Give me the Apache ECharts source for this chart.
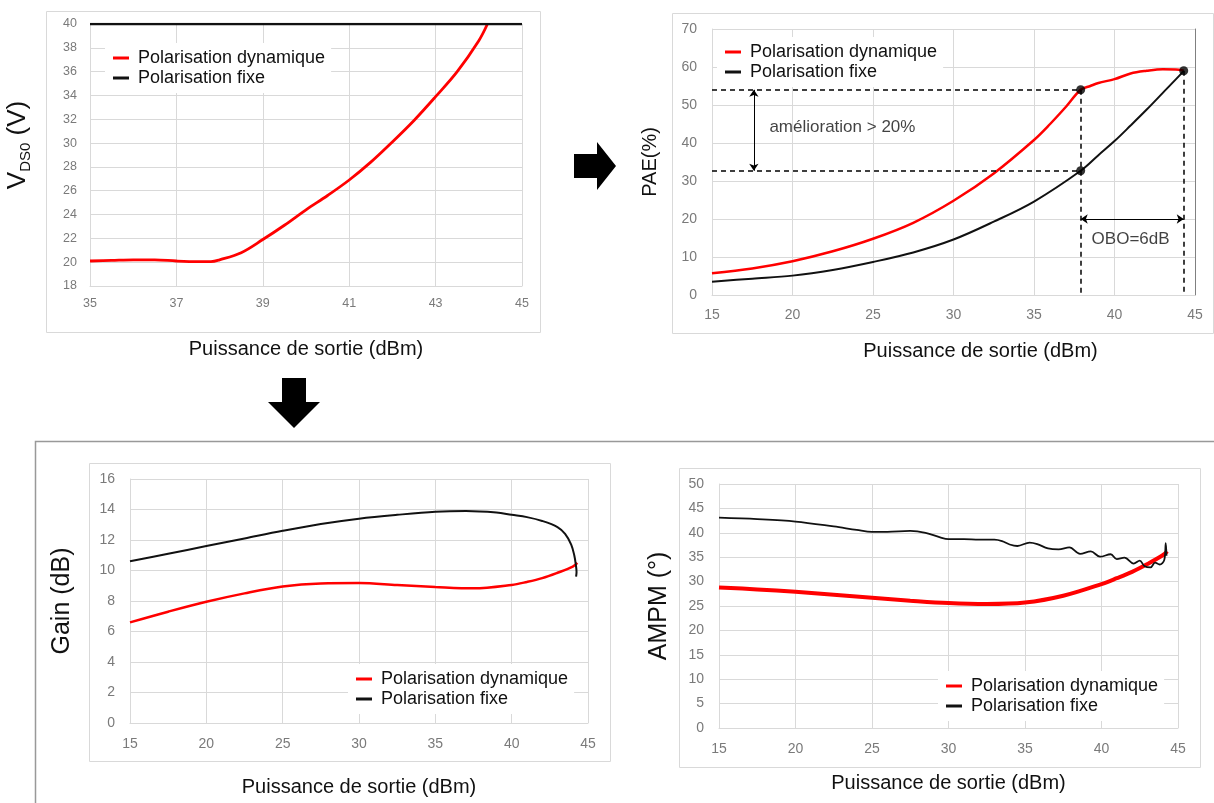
<!DOCTYPE html>
<html><head><meta charset="utf-8">
<script src="https://cdn.jsdelivr.net/npm/echarts@6/dist/echarts.min.js"></script>
<style>html,body{margin:0;padding:0;background:#fff}#c{width:1214px;height:803px}</style>
</head><body><div id="c"></div>
<script>
// ---------- DATA ----------
const seriesNames = ['Polarisation dynamique', 'Polarisation fixe'];
const xTitle = 'Puissance de sortie (dBm)';

// Chart 1 : VDS0 (V)
const vdsDynX = [35, 35.5, 36, 36.5, 37, 37.5, 37.8, 38, 38.5, 39, 39.5, 40, 40.5, 41, 41.5, 42, 42.5, 43, 43.5, 44, 44.2];
const vdsDynY = [20.1, 20.15, 20.2, 20.2, 20.1, 20.05, 20.05, 20.2, 20.8, 21.9, 23.1, 24.4, 25.6, 26.9, 28.4, 30.1, 31.9, 33.9, 36.0, 38.6, 40];
const vdsFixX = [35, 45];
const vdsFixY = [40, 40];

// Chart 2 : PAE (%)
const paeDynX = [15, 17.5, 20, 22.5, 25, 27.5, 30, 32.5, 35, 36, 37, 37.9, 38.5, 39, 40, 41, 42, 43, 44, 44.3];
const paeDynY = [5.7, 7.0, 8.9, 11.5, 14.8, 19.0, 24.8, 32.0, 40.8, 45.0, 49.6, 54.0, 55.0, 55.8, 56.8, 58.3, 59.0, 59.4, 59.3, 59.0];
const paeFixX = [15, 17.5, 20, 22.5, 25, 27.5, 30, 32.5, 35, 37.9, 39, 40, 41, 42, 43, 44, 44.3];
const paeFixY = [3.5, 4.3, 5.1, 6.6, 8.7, 11.2, 14.6, 19.3, 24.6, 32.7, 36.8, 40.5, 44.6, 48.8, 53.2, 57.6, 59.0];
// annotations of chart 2
const markX = [37.9, 37.9, 44.3];
const markY = [54, 32.7, 59];
const gainArrowX = 17.6;
const oboArrowY = 20;
const annotX = [23.1, 41.0];
const annotY = [44, 14.7];
const annotText = ['amélioration > 20%', 'OBO=6dB'];

// Chart 3 : Gain (dB)
const gainDynX = [15, 17.5, 20, 22.5, 25, 27.5, 30, 32.5, 35, 37.5, 40, 41, 42, 43, 44, 44.3];
const gainDynY = [6.6, 7.3, 7.95, 8.5, 8.95, 9.15, 9.18, 9.05, 8.92, 8.83, 9.05, 9.25, 9.5, 9.85, 10.25, 10.5];
const gainFixX = [15, 17.5, 20, 22.5, 25, 27.5, 30, 32.5, 35, 37, 39, 40, 41, 42, 43, 43.5, 43.9, 44.1, 44.2, 44.25, 44.22];
const gainFixY = [10.6, 11.1, 11.6, 12.1, 12.6, 13.05, 13.4, 13.65, 13.85, 13.9, 13.8, 13.65, 13.5, 13.25, 12.85, 12.4, 11.7, 11.0, 10.4, 9.9, 9.6];

// Chart 4 : AMPM (°)
const ampmDynX = [15, 17.5, 20, 22.5, 25, 27.5, 30, 32.5, 35, 37.5, 40, 41, 42, 43, 44, 44.3];
const ampmDynY = [28.8, 28.4, 27.9, 27.3, 26.7, 26.1, 25.6, 25.4, 25.7, 27.1, 29.5, 30.7, 32.0, 33.6, 35.4, 36.2];
const ampmFixX = [15, 17.5, 20, 22.5, 24, 25, 26, 27.5, 28.5, 29.5, 30, 31, 32, 33, 33.5, 34, 34.5, 35.3, 35.8, 36.5, 37.2, 37.9, 38.6, 39.3, 39.9, 40.6, 41, 41.5, 42.1, 42.5, 42.8, 43.2, 43.5, 43.8, 44.1, 44.2, 44.25];
const ampmFixY = [43.1, 42.8, 42.3, 41.3, 40.6, 40.2, 40.2, 40.4, 40.0, 39.0, 38.7, 38.7, 38.6, 38.6, 38.3, 37.6, 37.3, 38.0, 37.7, 36.8, 36.6, 37.0, 35.7, 36.2, 35.1, 35.6, 34.6, 34.9, 33.7, 34.3, 33.2, 32.9, 33.9, 33.5, 34.4, 37.9, 35.3];

// ---------- CHART ----------
const FONT = '"Liberation Sans", Arial, sans-serif';
const RED = '#ff0000', BLACK = '#111111', GRID = '#d9d9d9', TICK = '#7a7a7a';
const zip = (xs, ys) => xs.map((x, i) => [x, ys[i]]);

function xAxis(gi, min, max, interval, fs, margin, gap, padLeft) {
  return {
    type: 'value', gridIndex: gi, min, max, interval,
    axisLine: { show: true, onZero: false, lineStyle: { color: GRID } },
    axisTick: { show: false },
    splitLine: { show: true, lineStyle: { color: GRID } },
    axisLabel: { color: TICK, fontSize: fs, margin, fontFamily: FONT },
    name: xTitle, nameLocation: 'middle', nameGap: gap,
    nameTextStyle: { fontSize: 20, color: '#111', fontFamily: FONT, padding: [0, 0, 0, padLeft || 0] }
  };
}
function yAxis(gi, min, max, interval, fs, margin, name, gap, nameStyle) {
  return {
    type: 'value', gridIndex: gi, min, max, interval,
    axisLine: { show: true, onZero: false, lineStyle: { color: GRID } },
    axisTick: { show: false },
    splitLine: { show: true, lineStyle: { color: GRID } },
    axisLabel: { color: TICK, fontSize: fs, margin, fontFamily: FONT },
    name, nameLocation: 'middle', nameGap: gap, nameRotate: 90,
    nameTextStyle: Object.assign({ fontSize: 25, color: '#111', fontFamily: FONT }, nameStyle || {})
  };
}
function legend(left, top) {
  return {
    data: seriesNames, orient: 'vertical', left, top,
    icon: 'rect', itemWidth: 16, itemHeight: 3, itemGap: 0,
    backgroundColor: '#fff', padding: [5, 6, 5, 8],
    textStyle: { fontSize: 18, color: '#111', fontFamily: FONT, lineHeight: 20, padding: [0, 0, 0, 4] },
    selectedMode: false
  };
}
function line(name, gi, yi, data, color, width) {
  return {
    name, type: 'line', xAxisIndex: gi, yAxisIndex: yi, data,
    showSymbol: false, symbol: 'none', smooth: 0.35, smoothMonotone: 'none',
    lineStyle: { color, width }, itemStyle: { color }, z: 3, silent: true
  };
}

const frame = (x1, y1, x2, y2) => ({
  type: 'rect', shape: { x: x1 + 0.5, y: y1 + 0.5, width: x2 - x1, height: y2 - y1 },
  style: { fill: null, stroke: '#d9d9d9', lineWidth: 1 }, silent: true, z: 0
});

const option = {
  animation: false,
  textStyle: { fontFamily: FONT },
  grid: [
    { left: 90, top: 24, width: 432, height: 262 },
    { left: 712, top: 29, width: 483, height: 266 },
    { left: 130, top: 479, width: 458, height: 244 },
    { left: 719, top: 484, width: 459, height: 244 }
  ],
  xAxis: [
    xAxis(0, 35, 45, 2, 12.5, 11, 53),
    xAxis(1, 15, 45, 5, 14, 13, 46, 54),
    xAxis(2, 15, 45, 5, 14, 14, 54),
    xAxis(3, 15, 45, 5, 14, 14, 45)
  ],
  yAxis: [
    yAxis(0, 18, 40, 2, 12.5, 13, '{a|V}{b|DS0}{a| (V)}', 57, {
      padding: [0, 0, 0, 20],
      rich: {
        a: { fontSize: 26, lineHeight: 30, color: '#111', fontFamily: FONT },
        b: { fontSize: 15, lineHeight: 15, verticalAlign: 'bottom', color: '#111', fontFamily: FONT }
      }
    }),
    yAxis(1, 0, 70, 10, 14, 15, 'PAE(%)', 52, { fontSize: 20 }),
    {
      type: 'value', gridIndex: 1, position: 'right', min: 0, max: 70, interval: 10,
      axisLine: { show: true, onZero: false, lineStyle: { color: '#808080' } },
      axisTick: { show: false }, axisLabel: { show: false }, splitLine: { show: false }
    },
    yAxis(2, 0, 16, 2, 14, 15, 'Gain (dB)', 55),
    yAxis(3, 0, 50, 5, 14, 15, 'AMPM (°)', 47)
  ],
  legend: [legend(105, 43), legend(717, 37), legend(348, 664), legend(938, 671)],
  series: [
    line(seriesNames[0], 0, 0, zip(vdsDynX, vdsDynY), RED, 2.8),
    line(seriesNames[1], 0, 0, zip(vdsFixX, vdsFixY), BLACK, 2.5),

    line(seriesNames[0], 1, 1, zip(paeDynX, paeDynY), RED, 2.5),
    line(seriesNames[1], 1, 1, zip(paeFixX, paeFixY), BLACK, 2),
    {
      name: 'points', type: 'scatter', xAxisIndex: 1, yAxisIndex: 1,
      data: zip(markX, markY), symbolSize: 9, itemStyle: { color: '#000' }, z: 6, silent: true,
      markLine: {
        silent: true, symbol: 'none', label: { show: false },
        lineStyle: { type: [5, 4], color: '#000', width: 1.5 },
        data: [
          [{ coord: [15, markY[0]] }, { coord: [markX[0], markY[0]] }],
          [{ coord: [15, markY[1]] }, { coord: [markX[1], markY[1]] }],
          [{ coord: [markX[0], markY[0]] }, { coord: [markX[0], 0] }],
          [{ coord: [markX[2], markY[2]] }, { coord: [markX[2], 0] }]
        ]
      }
    },
    {
      name: 'arrows', type: 'line', xAxisIndex: 1, yAxisIndex: 1, data: [], silent: true,
      markLine: {
        silent: true, symbol: ['arrow', 'arrow'], symbolSize: 7, label: { show: false },
        lineStyle: { type: 'solid', color: '#000', width: 1 },
        data: [
          [{ coord: [gainArrowX, markY[0]] }, { coord: [gainArrowX, markY[1]] }],
          [{ coord: [markX[0], oboArrowY] }, { coord: [markX[2], oboArrowY] }]
        ]
      }
    },
    {
      name: 'texts', type: 'scatter', xAxisIndex: 1, yAxisIndex: 1, silent: true,
      data: annotX.map((x, i) => ({ value: [x, annotY[i]], name: annotText[i] })),
      symbolSize: 1, itemStyle: { color: 'rgba(0,0,0,0)' }, z: 7,
      label: { show: true, position: 'inside', formatter: p => p.name, color: '#111', fontSize: 17, fontFamily: FONT }
    },

    line(seriesNames[0], 2, 3, zip(gainDynX, gainDynY), RED, 2.5),
    line(seriesNames[1], 2, 3, zip(gainFixX, gainFixY), BLACK, 2),

    line(seriesNames[0], 3, 4, zip(ampmDynX, ampmDynY), RED, 4),
    line(seriesNames[1], 3, 4, zip(ampmFixX, ampmFixY), BLACK, 1.8)
  ],
  graphic: [
    frame(46, 11, 540, 332),
    frame(672, 13, 1213, 333),
    frame(89, 463, 610, 761),
    frame(679, 468, 1200, 767),
    { type: 'polyline', shape: { points: [[35.5, 803], [35.5, 441.5], [1214, 441.5]] },
      style: { stroke: '#999', lineWidth: 1.5, fill: null }, silent: true },
    { type: 'polygon', shape: { points: [[574, 154], [597, 154], [597, 142], [616, 166], [597, 190], [597, 178], [574, 178]] },
      style: { fill: '#000' }, silent: true },
    { type: 'polygon', shape: { points: [[282, 378], [306, 378], [306, 402], [320, 402], [294, 428], [268, 402], [282, 402]] },
      style: { fill: '#000' }, silent: true }
  ]
};
const chart = echarts.init(document.getElementById('c'));
chart.setOption(option);
</script>
</body></html>
